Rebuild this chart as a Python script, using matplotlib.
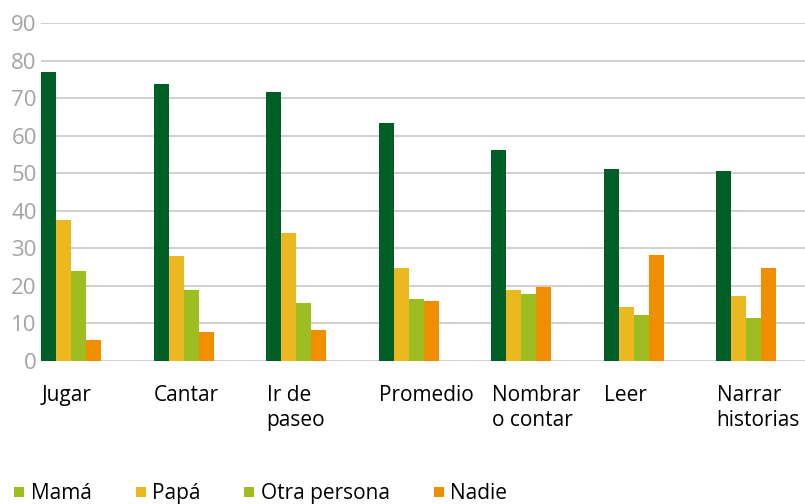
import numpy as np
import matplotlib
matplotlib.use("Agg")
import matplotlib.pyplot as plt
from matplotlib.lines import Line2D

plt.rcParams['font.family'] = ['Open Sans', 'DejaVu Sans']

# datos (porcentajes)
categorias = ['Jugar', 'Cantar', 'Ir de\npaseo', 'Promedio', 'Nombrar\no contar', 'Leer', 'Narrar\nhistorias']
mama = [76.9, 73.7, 71.6, 63.4, 56.2, 51.1, 50.6]
papa = [37.5, 28.0, 34.1, 24.8, 18.9, 14.4, 17.3]
otra = [24.0, 18.9, 15.4, 16.5, 17.8, 12.2, 11.4]
nadie = [5.6, 7.7, 8.3, 16.0, 19.7, 28.2, 24.8]
series = ['Mamá', 'Papá', 'Otra persona', 'Nadie']
yticks = [0, 10, 20, 30, 40, 50, 60, 70, 80, 90]

colores_barras = ['#005e27', '#ecb820', '#9dbd21', '#ef8f00']
# en el original el cuadrito de "Mamá" aparece verde claro
colores_leyenda = ['#9dbd21', '#ecb820', '#9dbd21', '#ef8f00']

W, H = 805, 504
fig = plt.figure(figsize=(W / 100, H / 100), dpi=100)
ax = fig.add_axes([41 / W, 1 - 361 / H, (W - 41) / W, (361 - 23) / H])

x = np.arange(len(categorias))
ancho = 15 / 112.5
for k, valores in enumerate([mama, papa, otra, nadie]):
    ax.bar(x + k * ancho, valores, width=ancho, align='edge',
           color=colores_barras[k], zorder=3, linewidth=0)

ax.set_ylim(0, 90)
ax.set_xlim(0, (W - 41) / 112.5)
ax.set_yticks(yticks)
ax.set_yticklabels([str(v) for v in yticks])
ax.tick_params(axis='y', length=0, pad=3, labelsize=16, labelcolor='#a3a3a3')
ax.set_xticks([])
ax.grid(axis='y', color='#d0d0d0', linewidth=1.4, zorder=0)
for s in ax.spines.values():
    s.set_visible(False)

# etiquetas de categoria alineadas a la izquierda de cada grupo
for i, cat in enumerate(categorias):
    ax.annotate(cat, xy=(x[i], 0), xycoords=('data', 'data'),
                xytext=(0.5, -17), textcoords='offset points',
                ha='left', va='top', fontsize=15, color='#000000',
                linespacing=1.3)

handles = [Line2D([], [], marker='s', linestyle='none', markersize=6.5,
                  markerfacecolor=c, markeredgewidth=0) for c in colores_leyenda]
fig.legend(handles, series, loc='lower left', bbox_to_anchor=(14 / W, 0.0),
           ncol=4, frameon=False, fontsize=15, handlelength=0.5,
           handletextpad=0.3, columnspacing=2.1, borderpad=0, borderaxespad=0)

fig.savefig('out.png', dpi=100)
